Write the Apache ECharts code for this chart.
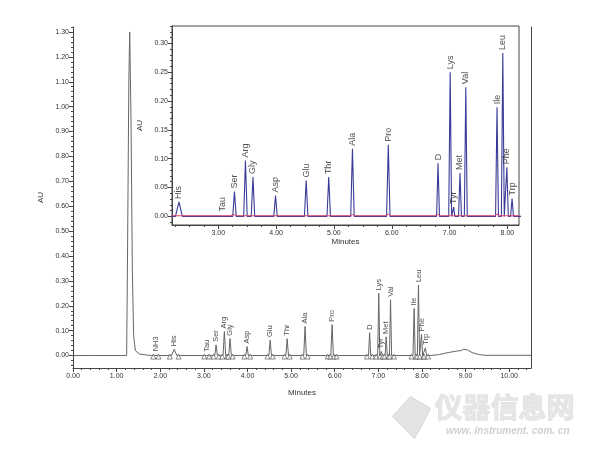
<!DOCTYPE html>
<html><head><meta charset="utf-8">
<script src="https://cdn.jsdelivr.net/npm/echarts@6/dist/echarts.min.js"></script>
<style>html,body{margin:0;padding:0;background:#fff}#c{width:600px;height:461px}</style>
</head><body><div id="c"></div>
<script>
// ---- data ----
const peakNames   = ['NH3','His','Tau','Ser','Arg','Gly','Asp','Glu','Thr','Ala','Pro','D','Lys','Tyr','Met','Val','Ile','Leu','Phe','Trp'];
const peakTimes   = [1.90, 2.32, 3.07, 3.28, 3.47, 3.60, 3.99, 4.52, 4.91, 5.32, 5.94, 6.80, 7.01, 7.07, 7.18, 7.28, 7.82, 7.92, 7.99, 8.08];
const peakHeights = [0.005,0.025,0.003,0.043,0.097,0.068,0.036,0.062,0.068,0.117,0.124,0.092,0.250,0.016,0.075,0.224,0.189,0.283,0.085,0.031];
const peakHalfWidths = [0.03,0.06,0.03,0.03,0.03,0.03,0.03,0.03,0.03,0.03,0.03,0.025,0.025,0.02,0.025,0.025,0.025,0.025,0.025,0.025];

// solvent front and late baseline drift of the full chromatogram [min, AU]
const solventFront = [[0,0],[0.38,0],[0.42,0.004],[0.46,0],[1.23,0],[1.25,0.40],[1.28,1.10],[1.30,1.30],[1.33,0.95],[1.36,0.35],[1.39,0.08],[1.43,0.02],[1.52,0.006],[1.70,0.002],[1.80,0]];
const lateDrift = [[8.20,0],[8.40,0.004],[8.60,0.012],[8.80,0.018],[8.90,0.020],[8.96,0.026],[9.00,0.032],[9.05,0.022],[9.15,0.012],[9.30,0.004],[9.45,0.001],[10.50,0.001]];

// integration marks (peak start / end) on the full chromatogram
const markTimes = [1.84,1.96,2.22,2.42,3.01,3.12,3.22,3.34,3.42,3.53,3.56,3.66,3.93,4.06,4.46,4.58,4.85,4.97,5.26,5.38,5.84,5.90,5.98,6.04,6.74,6.86,6.95,7.04,7.10,7.14,7.23,7.26,7.36,7.76,7.86,7.89,7.95,8.03,8.05,8.14];

// red reference trace of the inset [min, AU]
const redTrace = [[2.20,0.001],[3.20,0.001],[3.27,0.003],[3.34,0.001],[5.28,0.001],[5.32,0.003],[5.36,0.001],[5.88,0.001],[5.94,0.004],[6.00,0.001],[6.74,0.001],[6.79,0.004],[6.84,0.001],[7.78,0.001],[7.82,0.004],[7.86,0.001],[7.96,0.001],[7.99,0.003],[8.02,0.001],[8.20,0.001]];

// tick labels
const mainXTicks = [0,1,2,3,4,5,6,7,8,9,10];
const mainYTicks = [0,0.10,0.20,0.30,0.40,0.50,0.60,0.70,0.80,0.90,1.00,1.10,1.20,1.30];
const insetXTicks = [3,4,5,6,7,8];
const insetYTicks = [0,0.05,0.10,0.15,0.20,0.25,0.30];

// ---- helpers ----
function steps(a, b, s){ const r=[]; for(let v=a; v<=b+1e-9; v+=s) r.push(Math.round(v*10000)/10000); return r; }
const mainXMinor = steps(0, 10.4, 0.2);
const mainYMinor = steps(-0.04, 1.32, 0.02);
const insetXMinor = steps(2.25, 8.2, 0.25);
const insetYMinor = steps(-0.01, 0.33, 0.01);
const fmt2 = v => Number(v).toFixed(2);

function peakPoints(includeIdx){
  const pts = [];
  peakTimes.forEach((t,i)=>{
    if(!includeIdx(i)) return;
    const w = peakHalfWidths[i];
    pts.push([t-w,0],[t,peakHeights[i]],[t+w,0]);
  });
  return pts;
}
const mainTrace = solventFront.concat(peakPoints(()=>true), lateDrift).sort((a,b)=>a[0]-b[0]);
const insetTrace = [[2.0,0]].concat(peakPoints(i=>i>0), [[8.3,0]]).sort((a,b)=>a[0]-b[0]);
const labelData = peakNames.map((n,i)=>({name:n, value:[peakTimes[i], peakHeights[i]]}));
const markData = markTimes.map(t=>[t,0]);

const FONT = 'Liberation Sans, Arial, sans-serif';
const axisColor = '#444';
const txt = '#333';

function labelAxisX(grid, min, max, ticks, name, gap){
  return {gridIndex:grid, type:'value', min, max, position:'bottom',
    axisLine:{show:true, onZero:false, lineStyle:{color:axisColor, width:1}},
    axisTick:{show:true, length:4, customValues:ticks, lineStyle:{color:axisColor}},
    axisLabel:{customValues:ticks, formatter:fmt2, fontSize:7, color:txt, margin:5, fontFamily:FONT},
    splitLine:{show:false},
    name, nameLocation:'middle', nameGap:gap, nameTextStyle:{fontSize:8, color:txt, fontFamily:FONT}};
}
function minorAxisX(grid, min, max, ticks){
  return {gridIndex:grid, type:'value', min, max, position:'bottom',
    axisLine:{show:false, onZero:false}, axisTick:{show:true, length:2, customValues:ticks, lineStyle:{color:axisColor}},
    axisLabel:{show:false}, splitLine:{show:false}};
}
function labelAxisY(grid, min, max, ticks, name, gap){
  return {gridIndex:grid, type:'value', min, max, position:'left',
    axisLine:{show:true, onZero:false, lineStyle:{color:axisColor, width:1}},
    axisTick:{show:true, length:4, customValues:ticks, lineStyle:{color:axisColor}},
    axisLabel:{customValues:ticks, formatter:fmt2, fontSize:7, color:txt, margin:4, fontFamily:FONT},
    splitLine:{show:false},
    name, nameLocation:'middle', nameGap:gap, nameTextStyle:{fontSize:8, color:txt, fontFamily:FONT}};
}
function minorAxisY(grid, min, max, ticks){
  return {gridIndex:grid, type:'value', min, max, position:'left',
    axisLine:{show:false, onZero:false}, axisTick:{show:true, length:2, customValues:ticks, lineStyle:{color:axisColor}},
    axisLabel:{show:false}, splitLine:{show:false}};
}

const option = {
  animation:false,
  backgroundColor:'#fff',
  grid:[
    {left:73, right:69, top:27, bottom:93},
    {left:172, top:26, width:347, height:199, show:true, borderColor:axisColor, borderWidth:1, backgroundColor:'#fff', z:5}
  ],
  xAxis:[
    labelAxisX(0, 0, 10.5, mainXTicks, 'Minutes', 21),
    minorAxisX(0, 0, 10.5, mainXMinor),
    Object.assign(labelAxisX(1, 2.2, 8.2, insetXTicks, 'Minutes', 11), {z:6}),
    Object.assign(minorAxisX(1, 2.2, 8.2, insetXMinor), {z:6})
  ],
  yAxis:[
    labelAxisY(0, -0.05, 1.32, mainYTicks, 'AU', 21),
    minorAxisY(0, -0.05, 1.32, mainYMinor),
    {gridIndex:0, type:'value', min:-0.05, max:1.32, position:'right',
      axisLine:{show:true, onZero:false, lineStyle:{color:axisColor}}, axisTick:{show:false}, axisLabel:{show:false}, splitLine:{show:false}},
    Object.assign(labelAxisY(1, -0.015, 0.33, insetYTicks, 'AU', 17), {z:6}),
    Object.assign(minorAxisY(1, -0.015, 0.33, insetYMinor), {z:6})
  ],
  series:[
    {type:'line', xAxisIndex:0, yAxisIndex:0, data:mainTrace, showSymbol:false, symbol:'none',
      lineStyle:{color:'#666', width:1}, z:2},
    {type:'scatter', xAxisIndex:0, yAxisIndex:0, data:markData, symbol:'triangle', symbolSize:5, symbolOffset:[0,1],
      itemStyle:{color:'#fff', borderColor:'#333', borderWidth:0.7}, z:3},
    {type:'scatter', xAxisIndex:0, yAxisIndex:0, data:labelData, symbolSize:0,
      label:{show:true, formatter:'{b}', position:'top', distance:3, rotate:90, align:'left', verticalAlign:'middle',
        fontSize:7.5, color:'#222', fontFamily:FONT}, z:4},
    {type:'line', xAxisIndex:2, yAxisIndex:3, data:insetTrace, showSymbol:false, symbol:'none',
      lineStyle:{color:'#3a3a98', width:1.1}, z:7},
    {type:'line', xAxisIndex:2, yAxisIndex:3, data:redTrace, showSymbol:false, symbol:'none',
      lineStyle:{color:'#e0406a', width:1}, z:8},
    {type:'scatter', xAxisIndex:2, yAxisIndex:3, data:labelData.slice(1), symbolSize:0,
      label:{show:true, formatter:'{b}', position:'top', distance:3, rotate:90, align:'left', verticalAlign:'middle',
        fontSize:9, color:'#222', fontFamily:FONT}, z:9}
  ],
  graphic:[
    {type:'polygon', left:392, top:396, z:0,
      shape:{points:[[0,22],[18,2],[38,14],[30,30],[22,44],[14,36]]},
      style:{fill:'#e4e4e4', stroke:'#d6d6d6', lineWidth:1}},
    {type:'text', left:434, top:393, z:0,
      style:{text:'仪器信息网', font:'bold 28px "Noto Sans CJK SC", sans-serif', fill:'#e6e6e6', stroke:'#d8d8d8', lineWidth:0.8}},
    {type:'text', left:446, top:426, z:0,
      style:{text:'www. instrument. com. cn', font:'italic bold 10px "Liberation Sans", Arial, sans-serif', fill:'#d0d0d0'}}
  ]
};
echarts.init(document.getElementById('c')).setOption(option);
</script>
</body></html>
